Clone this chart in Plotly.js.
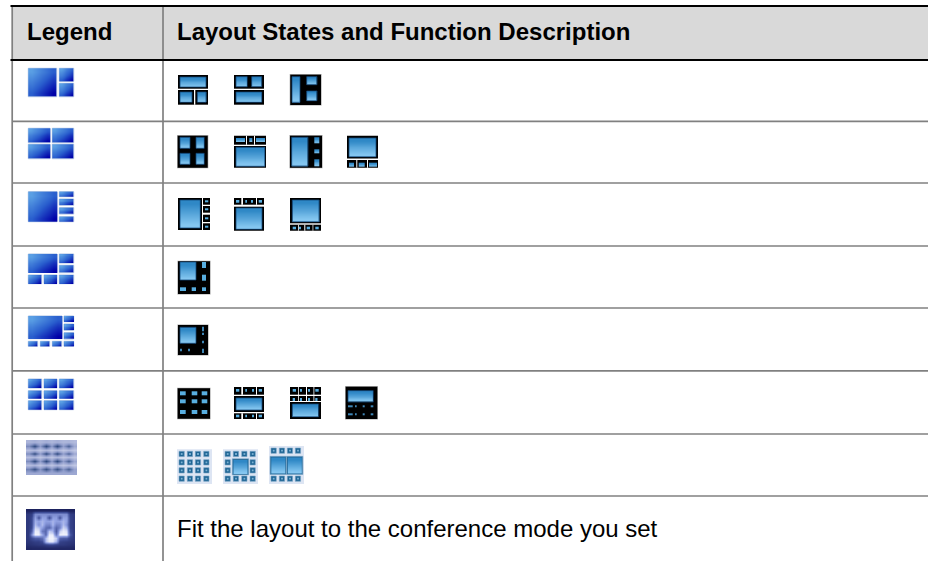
<!DOCTYPE html>
<html><head><meta charset="utf-8">
<script src="https://cdn.plot.ly/plotly-3.0.1.min.js"></script>
<style>html,body{margin:0;padding:0;background:#fff}#c{width:928px;height:561px}</style>
</head><body><div id="c"></div>
<script>
// ---- table text ----
const headerLabels = [["Legend", 27], ["Layout States and Function Description", 177]];
const fitText = "Fit the layout to the conference mode you set";
// ---- table rules ----
const rowRules = [121.3, 183, 246, 308, 370.8, 434, 496];
const headerRules = [6, 60];
const columnRules = [12.2, 163];
const headerBand = [12, 6, 928, 60];

// ---- legend column panes [x0,y0,x1,y1] ----
const legendPanes = [
 [28.3,68.3,56.7,96.7],[59.3,68.3,73.7,81.3],[59.3,83.3,73.7,96.7],
 [28.3,128.3,50,142.7],[52.3,128.3,73.7,142.7],[28.3,144.3,50,158.7],[52.3,144.3,73.7,158.7],
 [28.3,191.7,57,221.7],[59.3,191.7,73.7,196.7],[59.3,199,73.7,205.3],[59.3,207.7,73.7,214],[59.3,216.7,73.7,221.7],
 [28.3,254,57,272.5],[59.3,254,73.7,263],[59.3,265.3,73.7,272.7],[28.3,275,41.7,283.7],[44,275,57,283.7],[59.3,275,73.7,283.7],
 [28.3,316,62,338.7],[64,316,73.7,321.7],[64,324,73.7,330.3],[64,332.7,73.7,339],[28.3,341.3,37.7,346.3],[40.3,341.3,49.7,346.3],[52.3,341.3,61.7,346.3],[64,341.3,73.7,346.3],
 [28.3,379,41.7,388],[44,379,57,388],[59.3,379,73.7,388],
 [28.3,390.7,41.7,398.3],[44,390.7,57,398.3],[59.3,390.7,73.7,398.3],
 [28.3,400.7,41.7,409.7],[44,400.7,57,409.7],[59.3,400.7,73.7,409.7]
];
// blurred legend glyphs
const gridGlyphBox = [26,440,77,474.7];
const gridGlyph = [
 [.30,.35,.28,.35,.28,.35,.28,.30,.25],
 [.60,1.0,.50,1.0,.50,1.0,.50,.85,.40],
 [.22,.30,.16,.30,.16,.30,.16,.26,.15],
 [.60,1.0,.50,1.0,.50,1.0,.50,.85,.40],
 [.22,.30,.16,.30,.16,.30,.16,.26,.15],
 [.60,1.0,.50,1.0,.50,1.0,.50,.85,.40],
 [.22,.30,.16,.30,.16,.30,.16,.26,.15],
 [.65,.95,.55,.95,.55,.95,.55,.85,.45],
 [.40,.40,.40,.40,.40,.40,.40,.40,.40]
];
const autoGlyphBox = [26,509,75,549.7];
const autoGlyph = [
 [.02,.02,.02,.03,.03,.03,.03,.03,.03,.03,.03,.02,.02,.02],
 [.18,.22,.60,.60,.60,.60,.60,.60,.60,.60,.60,.60,.22,.18],
 [.18,.28,.68,.30,.68,.68,.30,.68,.68,.30,.68,.68,.25,.18],
 [.18,.28,.74,.68,.76,.68,.68,.76,.68,.68,.76,.68,.25,.18],
 [.18,.28,.78,.62,.78,.58,.56,.78,.56,.58,.78,.62,.25,.18],
 [.18,.30,.86,.80,.68,.46,.42,.68,.42,.56,.86,.76,.25,.18],
 [.18,.40,.94,.92,.52,.42,.82,.76,.38,.84,.94,.90,.30,.18],
 [.18,.62,.96,.96,.74,.42,.94,.94,.52,.96,.96,.96,.38,.18],
 [.18,.30,.38,.38,.46,.78,.96,.96,.84,.42,.38,.38,.25,.18],
 [.16,.18,.22,.22,.30,.78,.92,.92,.74,.25,.22,.20,.18,.16],
 [.12,.14,.16,.18,.18,.22,.26,.26,.22,.18,.18,.16,.14,.12],
 [.05,.06,.06,.06,.06,.06,.06,.06,.06,.06,.06,.06,.06,.05]
];

// ---- layout state icons: black bodies, white dividers, blue panes, tiny panes ----
const softEdges = [
 [290.3,74.7,321,105],[177.7,135.7,207.7,167.7],[290,135.7,322,167.7],
 [178,261.3,210,294],[178,325,208,355],[177.7,388.3,210,418.7],[345.7,386.7,377.3,419]
];
const blackBodies = [
 [178,75,208,104.7],[234,75,264,104.7],[290.3,74.7,321,105],
 [177.7,135.7,207.7,167.7],[234,135.7,266,167.7],[290,135.7,322,167.7],[347,135.7,378,167.7],
 [178,198,210,230],[234,198,264,230.7],[290,198,321,230.7],
 [178,261.3,210,294],[178,325,208,355],
 [177.7,388.3,210,418.7],[234,387,264,419],[290,387,321,419],[345.7,386.7,377.3,419]
];
const whiteDividers = [
 [178,88.7,208,90],[194,90,195.3,104.7],[234,88.7,264,90],
 [246,135.7,247,144.7],[254,135.7,255,144.7],[234,144.7,266,146],
 [347,158.5,378,160],[356.3,160,357.3,167.7],[367,160,368,167.7],
 [202,198,203,230],[203,204.7,210,206],[203,212.7,210,214.7],[203,222,210,223.3],
 [241.3,198,243,204.7],[256,198,257,204.7],[234,204.7,264,206.7],
 [290,223.3,321,224.7],[298.2,224.7,299,230.7],[304.3,224.7,305.3,230.7],[312.6,224.7,313.3,230.7],
 [234,394.7,264,396],[241.3,387,243,394.7],[256,387,257,394.7],
 [234,412,264,413.3],[241.3,413.3,243,419],[256,413.3,257,419],
 [290,394.7,321,396],[298.2,387,299,401],[306,387,307,401],[313.5,387,314.3,401],[290,401,321,402]
];
const bluePanes = [
 [180,77,206,87],[180,92,192,102.3],[197.3,92,206,102.3],
 [236,76.7,247.3,86.7],[251.7,76.7,261.7,86.7],[236,92,261.7,102.3],
 [292,76.7,300,102.3],[306.7,76.7,317,84.7],[306.7,91,317,100.7],
 [180,137.3,190,148.3],[196,137.3,204.3,148.3],[180,153.3,190,164.3],[196,153.3,204.3,164.3],
 [236,138,244.7,142],[249.3,138,252,142],[256,138,264.7,142],[236,147.3,264.7,166.3],
 [291.7,137.3,308,166],[314.3,137.3,319,143.3],[314.3,149.3,319,153.3],[314.3,159.3,319,166],
 [349,138,376,156.7],[349,162.7,354.3,166.3],[358.7,162.7,364.3,166.3],[369,162.7,376.7,166.3],
 [180,200,200.3,228],
 [236,208,262,229.3],
 [292.3,200,319,221.7],
 [180,262,196,280],
 [180,327.3,196,343.3],
 [236,398,262,410],
 [292.3,404,318.7,416.7],
 [348,390.7,373.3,402]
];
const tinyPanes = [
 [205,200.3,208.3,202.3],[205,208.3,208.3,210.3],[205,217.3,208.3,219.3],[205,225.7,208.3,227.7],
 [236,200,239.3,202.7],[245.3,200,247,202.7],[251,200,253,202.7],[258.7,200,262,202.7],
 [292.7,226.7,296,229.3],[299,226.7,301,229.3],[306.7,226.7,310,229.3],[315.3,226.7,318.7,229.3],
 [202,262,206,268],[202,274.7,206,280.7],[180,287.3,186,291],[191.7,287.3,196,291],[202,287.3,206,291],
 [180,391.3,185.7,395.3],[191.7,391.3,197.3,395.3],[201.7,391.3,207.3,395.3],
 [180,399.3,185.7,403.3],[191.7,399.3,197.3,403.3],[201.7,399.3,207.3,403.3],
 [180,410,185.7,414],[191.7,410,197.3,414],[201.7,410,207.3,414],
 [236,389,239.3,391.7],[245.3,389,247,391.7],[252,389,254,391.7],[258.7,389,262,391.7],
 [236,414.7,239.3,417.3],[245.3,414.7,247,417.3],[252,414.7,254,417.3],[258.7,414.7,262,417.3],
 [292.7,389,296,391.7],[300,389,302,391.7],[308,389,310,391.7],[315.3,389,318.7,391.7],
 [292.7,398,295,401],[300,398,302,401],[308,398,310,401],[315.3,398,317.5,401]
];
const dimDots = [
 [202,326.7,204,331.3],[202,332.7,204,335],[202,340.7,204,343.3],[202,348.7,204,353],
 [180,348.7,182,351.3],[188,348.7,190,351.3],
 [348,405.3,352.7,407.3],[355,405.3,356.7,407.3],[362.7,405.3,364.7,407.3],[370.7,405.3,373.3,407.3],
 [348,413.3,352.7,415.3],[355,413.3,356.7,415.3],[362.7,413.3,364.7,415.3],[370.7,413.3,373.3,415.3]
];

// ---- light tiled icons ----
const tileBacks = [[177,449.3,212,484],[223,449.3,258,484],[269,446,304,484]];
const tiles = [
 [179,451.3],[187.3,451.3],[195.3,451.3],[203.7,451.3],
 [179,459.7],[187.3,459.7],[195.3,459.7],[203.7,459.7],
 [179,467.7],[187.3,467.7],[195.3,467.7],[203.7,467.7],
 [179,476],[187.3,476],[195.3,476],[203.7,476],
 [225,451.3],[233.3,451.3],[241.7,451.3],[250,451.3],
 [225,459.7],[250,459.7],[225,467.7],[250,467.7],
 [225,476],[233.3,476],[241.7,476],[250,476],
 [271,448],[279.3,448],[287.3,448],[295.3,448],
 [271,476],[279.3,476],[287.3,476],[295.3,476]
];
const tileBigPanes = [[233.5,460,247.5,473.7],[271.3,457.5,285,473.3],[287.8,457.5,301.6,473.3]];

// ---- shading matrices ----
const diagShade = [[0,.17,.33,.5],[.17,.33,.5,.67],[.33,.5,.67,.83],[.5,.67,.83,1]];
const vertShade = [[0,0],[.33,.33],[.67,.67],[1,1]];
const legendScale = [[0,'#5a9fe4'],[.5,'#2a5fce'],[1,'#0000a8']];
const paneScale = [[0,'#2f88c6'],[1,'#84c6f0']];
const gridScale = [[0,'#d4d8ee'],[.5,'#8f9ccb'],[1,'#2f4a80']];
const autoScale = [[0,'#1a1f5a'],[.3,'#3b4a94'],[.7,'#93a3e4'],[1,'#ffffff']];

const traces = [];
function shaded(r, z, cs){
  const nx = z[0].length, ny = z.length;
  const dx = (r[2]-r[0])/nx, dy = (r[3]-r[1])/ny;
  traces.push({type:'heatmap', z:z, x0:r[0]+dx/2, dx:dx, y0:r[1]+dy/2, dy:dy,
    zmin:0, zmax:1, zsmooth:'best', colorscale:cs, showscale:false, hoverinfo:'skip'});
}
legendPanes.forEach(r=>shaded(r, diagShade, legendScale));
bluePanes.forEach(r=>shaded(r, vertShade, paneScale));
tileBigPanes.forEach(r=>shaded(r, vertShade, paneScale));
shaded(gridGlyphBox, gridGlyph, gridScale);
shaded(autoGlyphBox, autoGlyph, autoScale);

const shapes = [];
function box(r, fill, line, lw, layer){
  shapes.push({type:'rect', xref:'x', yref:'y', x0:r[0], y0:r[1], x1:r[2], y1:r[3],
    fillcolor:fill, line:{color:line||fill, width:lw===undefined?0:lw}, layer:layer||'below'});
}
function rule(x0,y0,x1,y1,c,w){
  shapes.push({type:'line', xref:'x', yref:'y', x0, y0, x1, y1, line:{color:c,width:w}, layer:'above'});
}
box(headerBand, '#d9d9d9');
legendPanes.forEach(r=>box(r, 'rgba(0,0,0,0)', '#a9bfe0', 1));
softEdges.forEach(r=>box(r, '#000', '#a8a8a8', 1.2));
blackBodies.forEach(r=>box(r, '#000'));
whiteDividers.forEach(r=>box(r, '#fff'));
bluePanes.forEach(r=>{ if(r[3]-r[1]>7) box(r, 'rgba(0,0,0,0)', 'rgba(18,70,120,0.75)', 1, 'above'); });
tinyPanes.forEach(r=>box(r, '#58aee0', '#58aee0', 0, 'above'));
dimDots.forEach(r=>box(r, '#3f86b6', '#3f86b6', 0, 'above'));
tileBacks.forEach(r=>box(r, '#dde5f3'));
tiles.forEach(t=>{
  box([t[0],t[1],t[0]+5.3,t[1]+5.3], '#1f6594', '#7ba6c8', 0.6);
  box([t[0]+1.8,t[1]+1.8,t[0]+3.6,t[1]+3.6], '#7cb2d4');
});
tileBigPanes.forEach(r=>box([r[0]-1.2,r[1]-1.2,r[2]+1.2,r[3]+1.2], '#1f6594', '#7ba6c8', 0.6));
rowRules.forEach(y=>rule(12,y,928,y,'#808080',1.7));
columnRules.forEach(x=>rule(x,6,x,561,'#808080',1.7));
headerRules.forEach(y=>rule(10.5,y,928,y,'#000',2));

const annotations = headerLabels.map(h=>({xref:'x',yref:'y',x:h[1],y:31,text:'<b>'+h[0]+'</b>',showarrow:false,
  xanchor:'left',yanchor:'middle',xshift:-2,font:{family:'Liberation Sans, Arial, sans-serif',size:24,color:'#000'}}));
annotations.push({xref:'x',yref:'y',x:177,y:528,text:fitText,showarrow:false,xanchor:'left',yanchor:'middle',xshift:-2,
  font:{family:'Liberation Sans, Arial, sans-serif',size:24,color:'#000'}});

Plotly.newPlot('c', traces, {
  width:928, height:561, margin:{l:0,r:0,t:0,b:0}, showlegend:false,
  paper_bgcolor:'#fff', plot_bgcolor:'#fff',
  xaxis:{range:[0,928],visible:false,fixedrange:true},
  yaxis:{range:[561,0],visible:false,fixedrange:true},
  shapes, annotations
}, {displayModeBar:false, staticPlot:true});
</script></body></html>
